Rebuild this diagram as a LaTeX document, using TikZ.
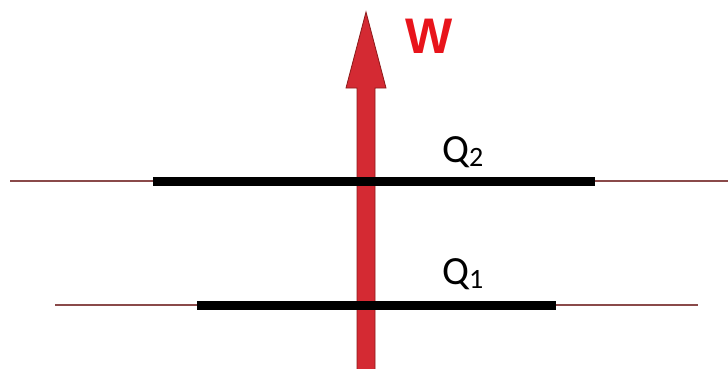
\documentclass[tikz,border=0pt]{standalone}
\usepackage{fontspec}
\setmainfont{Carlito}
\newfontfamily\wfont{Liberation Sans}
\definecolor{thin}{HTML}{8A4A4A}
\definecolor{arrowred}{HTML}{D42A33}
\definecolor{arrowedge}{HTML}{8B1A1A}
\definecolor{wred}{HTML}{E8141B}
\tikzset{
  thinline/.style={draw=thin, line width=1.2pt},
  thickline/.style={draw=black, line width=9pt},
  qlabel/.style={inner sep=0pt, anchor=base west, font=\fontsize{40}{40}\selectfont},
}
\begin{document}
\begin{tikzpicture}[x=1pt,y=-1pt]
\useasboundingbox (0,0) rectangle (728,369);
% arrow
\filldraw[fill=arrowred, draw=arrowedge, line width=0.8pt, line join=miter]
  (357,370) -- (357,88) -- (346,88) -- (366,12) -- (386,88) -- (375,88) -- (375,370) -- cycle;
% lines
\coordinate (t1) at (10,181);
\coordinate (t2) at (728,181);
\coordinate (T1) at (153,181);
\coordinate (T2) at (595,181);
\coordinate (b1) at (55,305);
\coordinate (b2) at (698,305);
\coordinate (B1) at (197,305);
\coordinate (B2) at (556,305);
\draw[thinline] (t1) -- (t2);
\draw[thinline] (b1) -- (b2);
\draw[thickline] (T1) -- (T2);
\draw[thickline] (B1) -- (B2);
\node[inner sep=0pt, anchor=base west, text=wred, font=\wfont\bfseries\fontsize{50}{50}\selectfont] (w) at (405,54) {W};
\node[qlabel] (q2) at (442,162) {Q\raisebox{-0.12em}{\fontsize{28}{28}\selectfont 2}};
\node[qlabel] (q1) at (442,284) {Q\raisebox{-0.12em}{\fontsize{28}{28}\selectfont 1}};
\end{tikzpicture}
\end{document}
